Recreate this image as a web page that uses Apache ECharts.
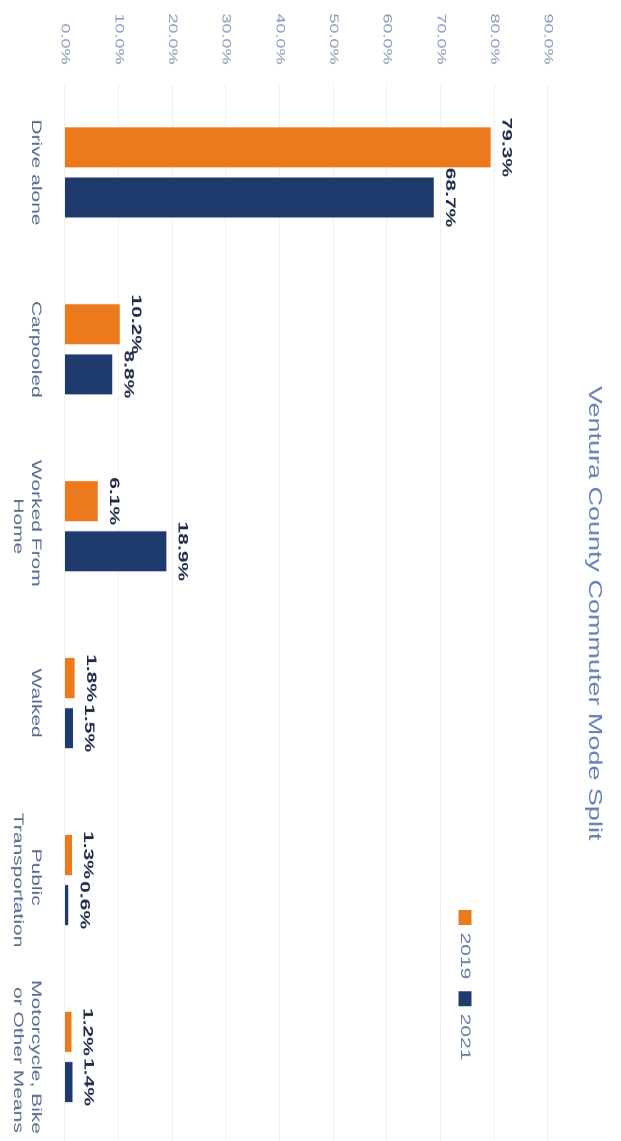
<!DOCTYPE html>
<html>
<head>
<meta charset="utf-8">
<script src="https://cdn.jsdelivr.net/npm/echarts@6/dist/echarts.min.js"></script>
<style>
  html, body { margin: 0; padding: 0; background: #ffffff; overflow: hidden; width: 621px; height: 1141px; }
  #chart {
    position: absolute; left: 0; top: 0;
    width: 761px; height: 621px;
    transform-origin: 0 0;
    transform: translate(621px, 0) rotate(90deg) scale(1.4993, 1);
    background: #ffffff;
  }
</style>
</head>
<body>
<div id="chart"></div>
<script>
const title = 'Ventura County Commuter Mode Split';
const categories = ['Drive alone', 'Carpooled', 'Worked From Home', 'Walked', 'Public Transportation', 'Motorcycle, Bike or Other Means'];
const seriesNames = ['2019', '2021'];
const values2019 = [79.3, 10.2, 6.1, 1.8, 1.3, 1.2];
const values2021 = [68.7, 8.8, 18.9, 1.5, 0.6, 1.4];
const axisMin = 0, axisMax = 90, axisStep = 10;

const FONT = '"Liberation Sans", Arial, sans-serif';
const chart = echarts.init(document.getElementById('chart'), null, { renderer: 'canvas', devicePixelRatio: 2 });
const pct = v => Number(v).toFixed(1) + '%';
const labelCfg = {
  show: true, position: 'top', distance: 9,
  formatter: p => pct(p.value),
  color: '#1f2b48', fontSize: 14, fontWeight: 'bold', fontFamily: FONT
};
chart.setOption({
  backgroundColor: '#ffffff',
  animation: false,
  title: {
    text: title, left: 404, top: 13, textAlign: 'center',
    textStyle: { color: '#6482b3', fontSize: 18, fontWeight: 'normal', fontFamily: FONT }
  },
  legend: {
    data: seriesNames, left: 602, top: 144, itemWidth: 10, itemHeight: 13, itemGap: 8,
    icon: 'rect',
    textStyle: { color: '#5f78a6', fontSize: 14, fontFamily: FONT }
  },
  grid: { left: 56, width: 708, top: 73, bottom: 65, containLabel: false, outerBoundsMode: 'none' },
  xAxis: {
    type: 'category', data: categories,
    axisLine: { show: false }, axisTick: { show: false },
    axisLabel: {
      margin: 20, color: '#56688e', fontSize: 14, fontFamily: FONT,
      width: 106, overflow: 'break', lineHeight: 18, interval: 0
    }
  },
  yAxis: {
    type: 'value', min: axisMin, max: axisMax, interval: axisStep,
    axisLine: { show: false }, axisTick: { show: false },
    splitLine: { show: true, lineStyle: { color: '#f1f1f1', width: 1 } },
    axisLabel: { margin: 13, color: '#8797bb', fontSize: 12, fontFamily: FONT, formatter: v => pct(v) }
  },
  series: [
    { name: seriesNames[0], type: 'bar', data: values2019, barGap: '25%', barCategoryGap: '49%',
      itemStyle: { color: '#ec7a1d' }, label: labelCfg },
    { name: seriesNames[1], type: 'bar', data: values2021,
      itemStyle: { color: '#1f3a6c' }, label: labelCfg }
  ]
});
</script>
</body>
</html>
